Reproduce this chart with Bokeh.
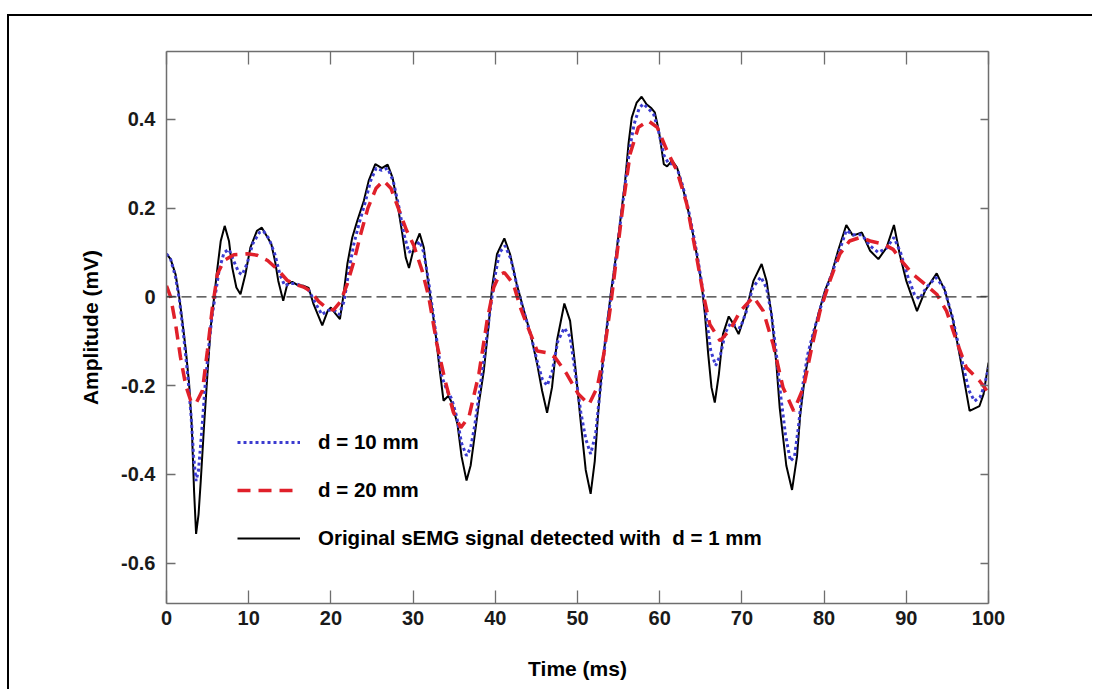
from bokeh.plotting import figure
from bokeh.models import (Range1d, LinearAxis, FixedTicker, Span, Legend, LegendItem,
                          CustomJSTickFormatter)
from bokeh.embed import file_html
from bokeh.resources import INLINE

# ---------------- data ----------------
x_ticks = [0, 10, 20, 30, 40, 50, 60, 70, 80, 90, 100]
y_ticks = [-0.6, -0.4, -0.2, 0, 0.2, 0.4]
y_tick_labels = ["-0.6", "-0.4", "-0.2", "0", "0.2", "0.4"]

x_title = "Time (ms)"
y_title = "Amplitude (mV)"
legend_labels = ["d = 10 mm", "d = 20 mm", "Original sEMG signal detected with  d = 1 mm"]

orig_t = [0.0, 0.5, 1.1, 1.5, 1.9, 2.35, 2.75, 3.07, 3.36, 3.6, 3.9, 4.17, 4.57, 4.98, 5.38, 5.8,
          6.2, 6.6, 7.08, 7.6, 8.0, 8.5, 9.0, 9.6, 10.2, 11.0, 11.6, 12.3, 12.75, 13.2, 13.6, 14.2,
          14.7, 15.3, 15.9, 16.7, 17.3, 17.9, 18.95, 19.6, 20.0, 20.6, 21.1, 21.5, 22.0, 22.6, 23.2,
          24.0, 24.6, 25.4, 26.2, 26.9, 27.5, 28.1, 28.7, 29.1, 29.5, 30.1, 30.8, 31.3, 31.7, 32.1,
          32.7, 33.2, 33.7, 34.3, 34.7, 35.4, 35.9, 36.5, 37.0, 37.4, 38.0, 38.6, 39.2, 39.6, 40.2,
          41.1, 41.8, 42.6, 43.5, 44.3, 45.1, 45.7, 46.3, 46.9, 47.5, 48.4, 49.1, 49.7, 50.3, 51.0,
          51.6, 52.1, 52.5, 53.0, 53.6, 54.1, 54.6, 55.2, 55.8, 56.2, 56.6, 57.2, 57.8, 58.4, 59.0,
          59.4, 59.9, 60.5, 60.9, 61.5, 62.1, 62.7, 63.3, 63.9, 64.5, 65.1, 65.5, 65.9, 66.3, 66.7,
          67.2, 67.7, 68.4, 69.0, 69.6, 70.4, 71.4, 72.4, 73.0, 73.6, 74.2, 74.6, 75.4, 76.1, 76.7,
          77.1, 77.7, 78.5, 79.3, 80.1, 80.9, 81.7, 82.7, 83.5, 84.6, 85.6, 86.6, 87.6, 88.5, 89.2,
          90.0, 91.3, 92.3, 93.7, 94.7, 95.7, 96.7, 97.7, 98.9, 99.4, 100.0]
orig_v = [0.097, 0.085, 0.051, 0.006, -0.05, -0.12, -0.196, -0.29, -0.44, -0.534, -0.49, -0.414,
          -0.29, -0.174, -0.068, 0.0, 0.066, 0.126, 0.16, 0.126, 0.066, 0.021, 0.006, 0.051, 0.111,
          0.149, 0.156, 0.134, 0.119, 0.081, 0.036, -0.009, 0.029, 0.034, 0.027, 0.025, 0.02, -0.017,
          -0.064, -0.032, -0.024, -0.039, -0.05, 0.0, 0.074, 0.134, 0.171, 0.216, 0.262, 0.299, 0.29,
          0.298, 0.269, 0.209, 0.141, 0.089, 0.065, 0.111, 0.143, 0.111, 0.051, 0.0, -0.077, -0.159,
          -0.234, -0.223, -0.238, -0.287, -0.36, -0.414, -0.38, -0.325, -0.24, -0.167, -0.062, 0.021,
          0.096, 0.132, 0.096, 0.029, -0.032, -0.084, -0.152, -0.212, -0.261, -0.204, -0.099, -0.015,
          -0.054, -0.152, -0.265, -0.39, -0.444, -0.37, -0.265, -0.159, -0.062, 0.014, 0.081, 0.171,
          0.262, 0.344, 0.404, 0.438, 0.451, 0.434, 0.425, 0.416, 0.374, 0.299, 0.294, 0.307, 0.292,
          0.254, 0.209, 0.156, 0.096, 0.029, -0.039, -0.129, -0.204, -0.238, -0.174, -0.084, -0.044,
          -0.062, -0.084, -0.039, 0.036, 0.074, 0.036, -0.039, -0.152, -0.25, -0.38, -0.435, -0.36,
          -0.265, -0.174, -0.099, -0.039, 0.014, 0.051, 0.104, 0.162, 0.138, 0.145, 0.104, 0.085,
          0.111, 0.162, 0.096, 0.036, -0.032, 0.014, 0.053, 0.014, -0.054, -0.152, -0.257, -0.246,
          -0.219, -0.148]

d10_t = [0.0, 0.5, 1.1, 1.6, 2.1, 2.6, 3.0, 3.3, 3.6, 3.9, 4.3, 4.7, 5.1, 5.5, 5.9, 6.4, 7.0, 7.6,
         8.2, 8.8, 9.2, 9.8, 10.5, 11.3, 11.8, 12.5, 13.2, 13.8, 14.4, 15.0, 15.7, 16.5, 17.3, 18.0,
         18.9, 19.7, 20.4, 21.0, 21.6, 22.2, 22.8, 23.5, 24.2, 24.8, 25.5, 26.2, 26.9, 27.6, 28.3,
         28.9, 29.5, 30.1, 30.8, 31.3, 31.8, 32.3, 32.9, 33.5, 34.1, 34.7, 35.3, 35.9, 36.5, 37.0,
         37.5, 38.1, 38.7, 39.3, 39.9, 40.5, 41.2, 41.9, 42.7, 43.5, 44.3, 45.1, 45.7, 46.3, 46.9,
         47.6, 48.4, 49.1, 49.8, 50.4, 51.0, 51.6, 52.2, 52.7, 53.2, 53.7, 54.2, 54.7, 55.3, 55.9,
         56.4, 56.9, 57.5, 58.0, 58.6, 59.3, 59.9, 60.5, 61.1, 61.6, 62.2, 62.8, 63.4, 64.0, 64.6,
         65.2, 65.7, 66.2, 66.8, 67.4, 68.0, 68.6, 69.2, 69.8, 70.5, 71.3, 72.3, 73.0, 73.6, 74.2,
         74.7, 75.3, 75.9, 76.4, 76.9, 77.4, 78.0, 78.7, 79.4, 80.2, 81.0, 81.8, 82.7, 83.5, 84.6,
         85.6, 86.6, 87.6, 88.5, 89.3, 90.1, 91.0, 91.6, 92.4, 93.6, 94.6, 95.6, 96.6, 97.6, 98.3,
         99.0, 99.5, 100.0]
d10_v = [0.097, 0.085, 0.045, -0.01, -0.09, -0.18, -0.27, -0.36, -0.415, -0.39, -0.3, -0.2, -0.12,
         -0.05, 0.0, 0.06, 0.1, 0.107, 0.08, 0.055, 0.05, 0.075, 0.12, 0.145, 0.148, 0.13, 0.095,
         0.05, 0.025, 0.03, 0.03, 0.025, 0.015, -0.01, -0.04, -0.03, -0.03, -0.04, -0.01, 0.06, 0.12,
         0.17, 0.215, 0.26, 0.29, 0.285, 0.29, 0.26, 0.2, 0.14, 0.1, 0.11, 0.125, 0.1, 0.045, -0.02,
         -0.1, -0.18, -0.21, -0.23, -0.27, -0.33, -0.358, -0.34, -0.29, -0.21, -0.13, -0.04, 0.04,
         0.1, 0.115, 0.085, 0.02, -0.035, -0.085, -0.145, -0.185, -0.2, -0.17, -0.1, -0.07, -0.09,
         -0.18, -0.26, -0.32, -0.354, -0.31, -0.22, -0.13, -0.05, 0.02, 0.09, 0.18, 0.27, 0.34, 0.39,
         0.425, 0.435, 0.425, 0.41, 0.37, 0.32, 0.3, 0.3, 0.285, 0.25, 0.205, 0.15, 0.09, 0.02, -0.05,
         -0.12, -0.155, -0.13, -0.08, -0.06, -0.065, -0.07, -0.035, 0.02, 0.045, 0.02, -0.04, -0.13,
         -0.22, -0.31, -0.37, -0.36, -0.29, -0.2, -0.13, -0.08, -0.035, 0.015, 0.055, 0.1, 0.15, 0.14,
         0.14, 0.115, 0.1, 0.11, 0.134, 0.1, 0.05, 0.005, -0.005, 0.02, 0.044, 0.02, -0.045, -0.13,
         -0.21, -0.235, -0.225, -0.2, -0.16]

d20_t = [0.0, 0.5, 1.1, 1.7, 2.35, 2.95, 3.56, 4.37, 4.98, 5.59, 6.2, 7.0, 8.2, 9.8, 11.0, 12.3,
         13.5, 14.7, 15.7, 16.7, 17.6, 18.5, 19.5, 20.3, 21.2, 22.0, 22.8, 23.6, 24.5, 25.5, 26.4,
         27.3, 28.2, 29.2, 30.1, 31.1, 31.9, 32.9, 33.9, 34.9, 35.8, 36.8, 38.0, 39.0, 39.8, 40.5,
         41.1, 42.2, 43.05, 44.3, 45.1, 46.3, 47.3, 48.7, 50.1, 51.4, 52.4, 53.2, 54.0, 54.8, 55.6,
         56.4, 57.4, 58.6, 59.7, 60.9, 62.1, 63.3, 64.5, 65.3, 66.1, 67.35, 68.6, 69.8, 71.4, 72.6,
         73.8, 75.0, 76.3, 77.5, 78.5, 79.5, 80.7, 81.9, 83.1, 84.4, 85.6, 87.2, 88.4, 89.6, 90.8,
         92.5, 93.7, 94.9, 96.1, 97.3, 98.9, 100.0]
d20_v = [0.025, 0.0, -0.061, -0.136, -0.2, -0.234, -0.241, -0.211, -0.121, -0.023, 0.052, 0.082,
         0.095, 0.097, 0.094, 0.082, 0.062, 0.037, 0.028, 0.022, 0.012, -0.01, -0.025, -0.03, -0.01,
         0.03, 0.08, 0.14, 0.2, 0.245, 0.262, 0.245, 0.2, 0.15, 0.115, 0.059, 0.0, -0.107, -0.189,
         -0.26, -0.295, -0.27, -0.174, -0.054, 0.021, 0.05, 0.055, 0.029, -0.024, -0.084, -0.122,
         -0.126, -0.137, -0.174, -0.219, -0.242, -0.204, -0.129, -0.024, 0.096, 0.216, 0.322, 0.382,
         0.397, 0.382, 0.329, 0.284, 0.209, 0.089, 0.006, -0.062, -0.099, -0.073, -0.032, 0.0, -0.032,
         -0.107, -0.204, -0.257, -0.204, -0.114, -0.032, 0.036, 0.096, 0.126, 0.134, 0.126, 0.119,
         0.107, 0.077, 0.051, 0.025, 0.006, -0.032, -0.099, -0.159, -0.189, -0.216]

# ---------------- figure ----------------
FONT = "Liberation Sans"
AXIS_COLOR = "#6e6e6e"

p = figure(width=1085, height=675, output_backend="svg", toolbar_location=None,
           x_range=Range1d(0, 100), y_range=Range1d(-0.691, 0.553),
           min_border_left=157, min_border_right=106, min_border_top=35, min_border_bottom=88)
p.margin = (16, 0, 0, 9)
p.styles = {"box-shadow": "-2px -2px 0 0 black"}
p.background_fill_color = "white"
p.border_fill_color = "white"
p.outline_line_color = None
p.xgrid.visible = False
p.ygrid.visible = False

def style_axis(ax, tin):
    ax.axis_line_color = AXIS_COLOR
    ax.axis_line_width = 1.5
    ax.major_tick_line_color = AXIS_COLOR
    ax.major_tick_line_width = 1.3
    ax.major_tick_in = tin
    ax.major_tick_out = 0
    ax.minor_tick_line_color = None
    ax.major_label_text_font = FONT
    ax.major_label_text_font_style = "bold"
    ax.major_label_text_font_size = "20px"
    ax.major_label_text_color = "#1a1a1a"
    ax.axis_label_text_font = FONT
    ax.axis_label_text_font_style = "bold"
    ax.axis_label_text_font_size = "21px"
    ax.axis_label_text_color = "black"

xa = p.xaxis[0]
xa.ticker = FixedTicker(ticks=x_ticks)
style_axis(xa, 13)
xa.major_label_standoff = 7
xa.axis_label = x_title
xa.axis_label_standoff = 29

ya = p.yaxis[0]
ya.ticker = FixedTicker(ticks=y_ticks)
ya.major_label_overrides = {v: s for v, s in zip(y_ticks, y_tick_labels)}
style_axis(ya, 9)
ya.major_label_standoff = 11
ya.axis_label = y_title
ya.axis_label_standoff = 16

blank = CustomJSTickFormatter(code="return ''")
top = LinearAxis(ticker=FixedTicker(ticks=x_ticks), formatter=blank)
style_axis(top, 13)
p.add_layout(top, "above")
right = LinearAxis(ticker=FixedTicker(ticks=y_ticks), formatter=blank)
style_axis(right, 8)
p.add_layout(right, "right")

p.add_layout(Span(location=0, dimension="width", line_color="#333333",
                  line_width=1.2, line_dash="10 5"))

r_orig = p.line(orig_t, orig_v, line_color="black", line_width=2)
r_d10 = p.line(d10_t, d10_v, line_color="#3b3bd0", line_width=3, line_dash="3 3")
r_d20 = p.line(d20_t, d20_v, line_color="#e0202a", line_width=3.5, line_dash="13 8")

legend = Legend(items=[LegendItem(label=legend_labels[0], renderers=[r_d10]),
                       LegendItem(label=legend_labels[1], renderers=[r_d20]),
                       LegendItem(label=legend_labels[2], renderers=[r_orig])],
                location=(71, 50))
legend.margin = 0
legend.padding = 0
legend.spacing = 18
legend.glyph_width = 63
legend.glyph_height = 30
legend.label_height = 30
legend.label_standoff = 18
legend.border_line_color = None
legend.background_fill_alpha = 0
legend.label_text_font = FONT
legend.label_text_font_style = "bold"
legend.label_text_font_size = "20.5px"
legend.label_text_color = "black"
p.add_layout(legend)

open("out.html", "w").write(file_html(p, INLINE))
